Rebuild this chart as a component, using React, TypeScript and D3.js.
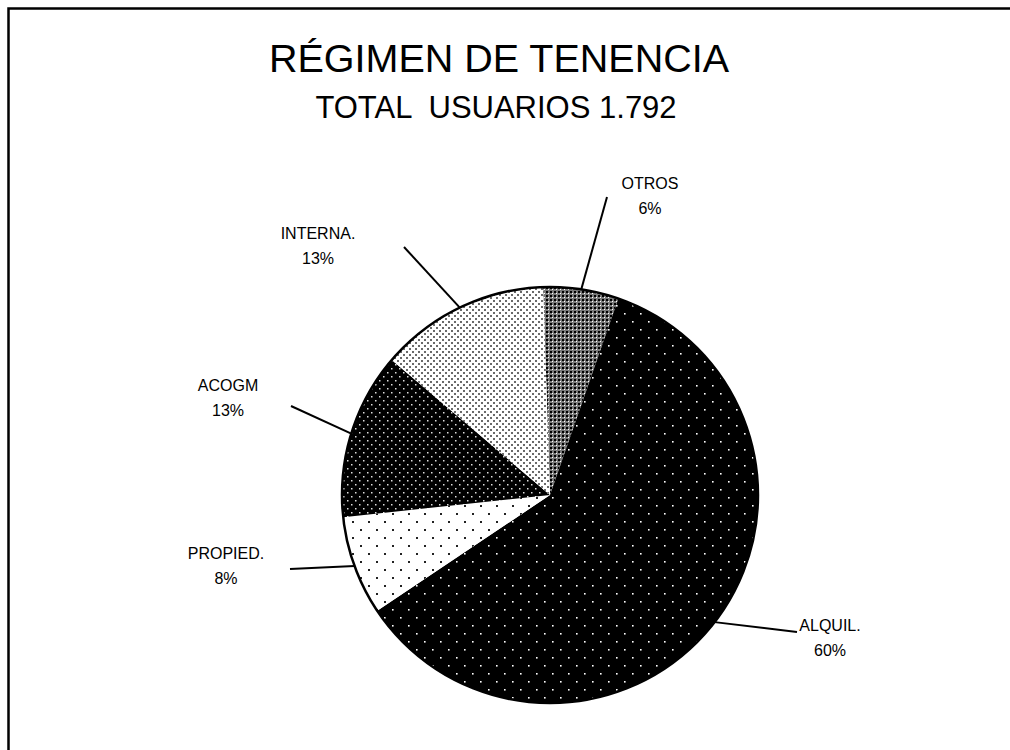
import React from "react";
import * as d3 from "d3";

const categories = ["OTROS", "ALQUIL.", "PROPIED.", "ACOGM", "INTERNA."];
const values = [105, 1080, 138, 232, 237];
const percentLabels = ["6%", "60%", "8%", "13%", "13%"];
const patternIds = ["pOtros", "pAlquil", "pPropied", "pAcogm", "pInterna"];

const title = "RÉGIMEN DE TENENCIA";
const subtitle = "TOTAL  USUARIOS 1.792";

// layout (not data)
const W = 1010;
const H = 750;
const CX = 550;
const CY = 495;
const R = 208;
const START = (-1.9 * Math.PI) / 180;
const labelLayout = [
  { cx: 650, cy: 196, lx: 607, ly: 197 },
  { cx: 830, cy: 638, lx: 797, ly: 632 },
  { cx: 226, cy: 566, lx: 290, ly: 569 },
  { cx: 228, cy: 398, lx: 291, ly: 406 },
  { cx: 318, cy: 246, lx: 404, ly: 247 },
];

const FONT = "'Liberation Sans', Arial, Helvetica, sans-serif";

export default function App() {
  const pie = d3
    .pie<number>()
    .sort(null)
    .value((d) => d)
    .startAngle(START)
    .endAngle(START + 2 * Math.PI);
  const arcs = pie(values);
  const arc = d3.arc<d3.PieArcDatum<number>>().innerRadius(0).outerRadius(R);

  return (
    <svg
      width={W}
      height={H}
      style={{ position: "absolute", left: 0, top: 0, background: "#fff" }}
      fontFamily={FONT}
    >
      <defs>
        <pattern id="pOtros" width={4} height={4} patternUnits="userSpaceOnUse">
          <rect width={4} height={4} fill="#7a7a7a" />
          <rect x={0} y={0} width={2} height={2} fill="#000" />
          <rect x={2} y={2} width={1} height={1} fill="#fff" />
        </pattern>
        <pattern id="pAlquil" width={16} height={16} patternUnits="userSpaceOnUse">
          <rect width={16} height={16} fill="#000" />
          <rect x={2} y={2} width={1.6} height={1.6} fill="#fff" />
          <rect x={10} y={10} width={1.6} height={1.6} fill="#fff" />
        </pattern>
        <pattern id="pPropied" width={16} height={16} patternUnits="userSpaceOnUse">
          <rect width={16} height={16} fill="#fff" />
          <rect x={2} y={2} width={2} height={2} fill="#222" />
          <rect x={10} y={10} width={2} height={2} fill="#222" />
        </pattern>
        <pattern id="pAcogm" width={8} height={8} patternUnits="userSpaceOnUse">
          <rect width={8} height={8} fill="#000" />
          <rect x={1} y={1} width={1.5} height={1.5} fill="#ddd" />
          <rect x={5} y={5} width={1.5} height={1.5} fill="#ddd" />
        </pattern>
        <pattern id="pInterna" width={6} height={6} patternUnits="userSpaceOnUse">
          <rect width={6} height={6} fill="#fff" />
          <rect x={0} y={0} width={2} height={2} fill="#6a6a6a" />
          <rect x={3} y={3} width={2} height={2} fill="#6a6a6a" />
        </pattern>
      </defs>

      <rect x={8.5} y={8.5} width={1100} height={900} fill="none" stroke="#000" strokeWidth={2.5} />

      <text x={499} y={72} textAnchor="middle" fontSize={39.5} fill="#000">
        {title}
      </text>
      <text
        x={496}
        y={118}
        textAnchor="middle"
        fontSize={31}
        fill="#000"
        style={{ whiteSpace: "pre" }}
      >
        {subtitle}
      </text>

      <g transform={`translate(${CX},${CY})`}>
        {arcs.map((a, i) => (
          <path key={categories[i]} d={arc(a) || ""} fill={`url(#${patternIds[i]})`} stroke="none" />
        ))}
        <circle r={R} fill="none" stroke="#000" strokeWidth={2.5} />
      </g>

      {arcs.map((a, i) => {
        const mid = (a.startAngle + a.endAngle) / 2;
        const ex = CX + R * Math.sin(mid);
        const ey = CY - R * Math.cos(mid);
        const L = labelLayout[i];
        return (
          <g key={"l" + i}>
            <line x1={L.lx} y1={L.ly} x2={ex} y2={ey} stroke="#000" strokeWidth={2} />
            <text textAnchor="middle" fontSize={16} fill="#000">
              <tspan x={L.cx} y={L.cy - 7}>
                {categories[i]}
              </tspan>
              <tspan x={L.cx} y={L.cy + 18}>
                {percentLabels[i]}
              </tspan>
            </text>
          </g>
        );
      })}
    </svg>
  );
}
